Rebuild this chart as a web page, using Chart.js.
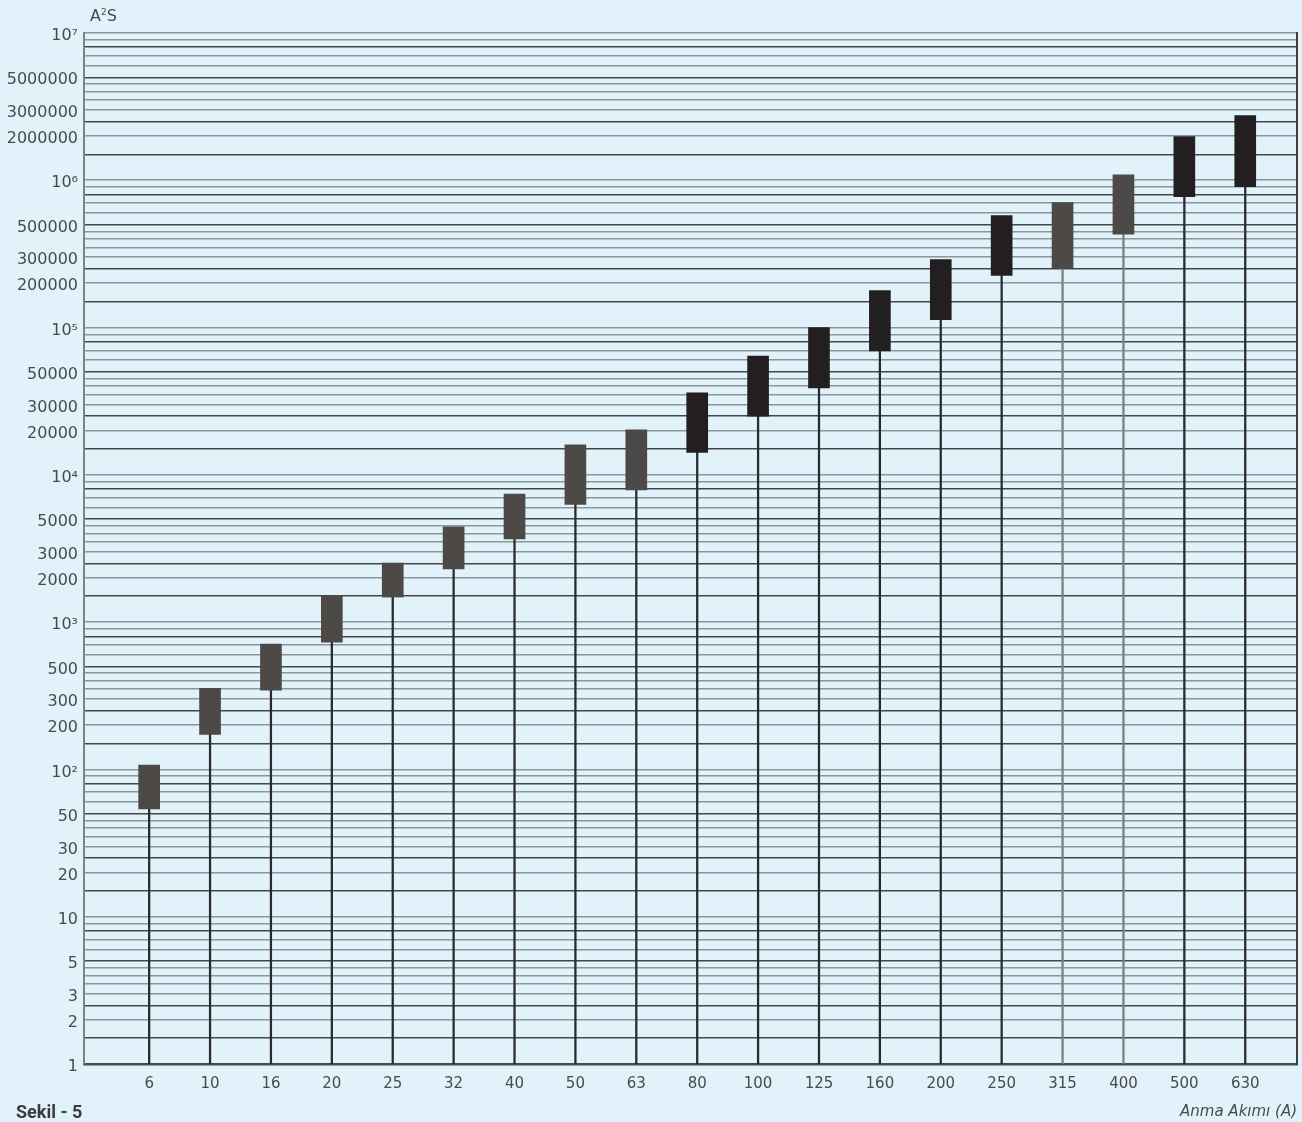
<!DOCTYPE html>
<html>
<head>
<meta charset="utf-8">
<script src="https://cdn.jsdelivr.net/npm/chart.js@4"></script>
<style>
    body { margin: 0; background: #e1f2fb; }
    #wrap { position: relative; width: 1302px; height: 1122px; }
    .txt { position: absolute; white-space: nowrap; color: #4a4a4a; font-family: "DejaVu Sans", sans-serif; }
    #unit { left: 90px; top: 6px; font-size: 16px; }
    #unit sup { font-size: 9px; }
    #xname { right: 5px; top: 1102px; font-size: 15px; font-style: italic; }
    #fig { left: 16px; top: 1101px; font-size: 18px; font-weight: bold; font-family: Roboto, sans-serif; color: #3b3b3b; }
</style>
</head>
<body>
<div id="wrap">
    <canvas id="chart" width="1302" height="1122"></canvas>
    <div class="txt" id="unit">A<sup>2</sup>S</div>
    <div class="txt" id="xname">Anma Akımı (A)</div>
    <div class="txt" id="fig">Sekil - 5</div>
</div>
<script>
// Data
const categories = ['6', '10', '16', '20', '25', '32', '40', '50', '63', '80', '100', '125', '160', '200', '250', '315', '400', '500', '630'];
const lowValues = [54, 173, 345, 732, 1480, 2300, 3670, 6300, 7900, 14200, 25000, 39000, 69500, 113000, 226000, 252000, 430000, 775000, 906000];
const highValues = [107, 356, 710, 1500, 2520, 4430, 7400, 16000, 20200, 36000, 64000, 100000, 178000, 289000, 575000, 705000, 1090000, 1980000, 2750000];

// y axis: labelled values and gridline mantissas
const yLabelValues = [1, 2, 3, 5, 10, 20, 30, 50, 100, 200, 300, 500, 1000, 2000, 3000, 5000, 10000, 20000, 30000, 50000,
    100000, 200000, 300000, 500000, 1000000, 2000000, 3000000, 5000000, 10000000];
const gridMantissas = [1, 1.5, 2, 2.5, 3, 3.5, 4, 4.5, 5, 6, 7, 8, 9];
const darkMantissas = [1.5, 2.5, 5, 8];

// which categories use the darker bar colour
const darkCategories = ['80', '100', '125', '160', '200', '250', '500', '630'];
const greyStemCategories = ['315', '400'];

const supDigits = { '0': '⁰', '1': '¹', '2': '²', '3': '³', '4': '⁴', '5': '⁵', '6': '⁶', '7': '⁷', '8': '⁸', '9': '⁹' };

function formatYLabel(v) {
    const p = Math.round(Math.log10(v));
    if (p >= 2 && Math.abs(Math.pow(10, p) - v) < 1e-6) {
        return '10' + supDigits[String(p)];
    }
    return String(v);
}

function mantissaOf(v) {
    const p = Math.floor(Math.log10(v) + 1e-9);
    return Math.round(v / Math.pow(10, p) * 10) / 10;
}

const gridValues = [];
for (let p = 0; p < 7; p++) {
    gridMantissas.forEach(m => gridValues.push(m * Math.pow(10, p)));
}
gridValues.push(10000000);

const stemData = categories.map((c, i) => ({ x: i, y: [1, lowValues[i]] }));
const barData = categories.map((c, i) => ({ x: i, y: [lowValues[i], highValues[i]] }));

const barColors = categories.map(c => darkCategories.includes(c) ? '#231f20' : '#4d4946');
const stemColors = categories.map(c => greyStemCategories.includes(c) ? '#7c7f81' : '#2a2a2a');

const ctx = document.getElementById('chart').getContext('2d');
new Chart(ctx, {
    type: 'bar',
    data: {
        datasets: [{
            label: 'stem',
            data: stemData,
            backgroundColor: stemColors,
            barThickness: 1.6,
            grouped: false,
            order: 2
        }, {
            label: 'range',
            data: barData,
            backgroundColor: barColors,
            barThickness: 21,
            grouped: false,
            order: 1
        }]
    },
    options: {
        responsive: false,
        devicePixelRatio: 1,
        animation: false,
        layout: { padding: { left: 0, top: 33, right: 5, bottom: 0 } },
        plugins: {
            legend: { display: false },
            tooltip: { enabled: false }
        },
        scales: {
            x: {
                type: 'linear',
                offset: false,
                min: -1.07,
                max: 18.85,
                grid: { display: false, drawTicks: false, offset: false },
                border: { display: true, color: '#4b4b4b', width: 2.5 },
                afterBuildTicks: (axis) => {
                    axis.ticks = categories.map((c, i) => ({ value: i }));
                },
                afterFit: (axis) => { axis.height = 58; },
                ticks: {
                    autoSkip: false,
                    maxRotation: 0,
                    padding: 11,
                    color: '#4a4a4a',
                    font: { family: 'DejaVu Sans', size: 15 },
                    callback: (v) => categories[v] !== undefined ? categories[v] : ''
                }
            },
            y: {
                type: 'logarithmic',
                min: 1,
                max: 10000000,
                border: { display: true, color: '#7d8387', width: 2 },
                grid: {
                    drawTicks: false,
                    lineWidth: 1.6,
                    color: (c) => {
                        if (!c.tick) return '#8c959a';
                        return darkMantissas.includes(mantissaOf(c.tick.value)) ? '#444648' : '#8c959a';
                    }
                },
                afterBuildTicks: (axis) => {
                    axis.ticks = gridValues.map(v => ({ value: v }));
                },
                afterFit: (axis) => { axis.width = 84; },
                ticks: {
                    autoSkip: false,
                    padding: 6,
                    color: '#4a4a4a',
                    font: { family: 'DejaVu Sans', size: 16, lineHeight: '6px' },
                    // empty first line nudges the label a few px below its gridline, as in the picture
                    callback: (v) => {
                        const hit = yLabelValues.find(l => Math.abs(l - v) / l < 1e-6);
                        return hit ? ['', formatYLabel(hit)] : '';
                    }
                }
            },
            yRight: {
                type: 'logarithmic',
                position: 'right',
                min: 1,
                max: 10000000,
                border: { display: true, color: '#3f3f3f', width: 2 },
                grid: { display: false, drawTicks: false },
                ticks: { display: false },
                afterFit: (axis) => { axis.width = 0; }
            }
        }
    }
});
</script>
</body>
</html>
